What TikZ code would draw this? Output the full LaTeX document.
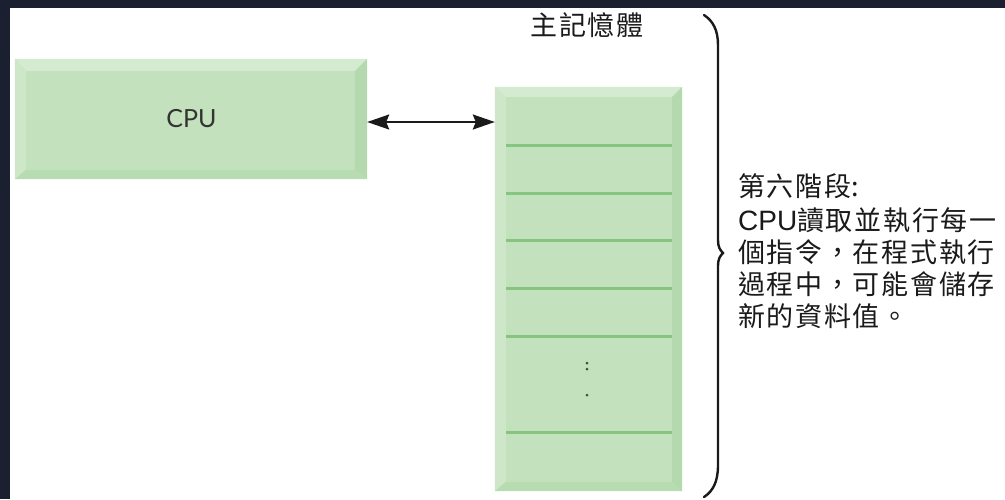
\documentclass[tikz,border=0pt]{standalone}
\usepackage{fontspec}
\usetikzlibrary{arrows.meta}
\newfontfamily\cjk{Noto Sans CJK TC}
\newfontfamily\latf{Liberation Sans}
\newfontfamily\cpuf{Lato}
\makeatletter
\count@="4E00
\loop
  \XeTeXcharclass\count@=1
  \advance\count@ 1
\ifnum\count@<"A000 \repeat
\makeatother
\XeTeXcharclass"FF0C=1
\XeTeXcharclass"3002=1
\XeTeXinterchartokenstate=1
\XeTeXinterchartoks 1 1 = {\hskip 1.7pt\relax}
\XeTeXinterchartoks 0 1 = {\hskip 2pt\relax}
\definecolor{frame}{HTML}{1B2030}
\definecolor{face}{HTML}{C3E1BD}
\definecolor{bevT}{HTML}{D5EBD1}
\definecolor{bevL}{HTML}{CDE7C8}
\definecolor{bevR}{HTML}{B5D9AE}
\definecolor{bevB}{HTML}{B8DCB1}
\definecolor{sep}{HTML}{84C67D}
\definecolor{ink}{HTML}{1A1A1A}
\newcommand\bevelbox[5]{%
 \fill[bevT] (#1.north west) -- (#1.north east) -- ([shift={(-#4,#2)}]#1.north east) -- ([shift={(#3,#2)}]#1.north west) -- cycle;
 \fill[bevL] (#1.north west) -- ([shift={(#3,#2)}]#1.north west) -- ([shift={(#3,-#5)}]#1.south west) -- (#1.south west) -- cycle;
 \fill[bevR] (#1.north east) -- (#1.south east) -- ([shift={(-#4,-#5)}]#1.south east) -- ([shift={(-#4,#2)}]#1.north east) -- cycle;
 \fill[bevB] (#1.south west) -- ([shift={(#3,-#5)}]#1.south west) -- ([shift={(-#4,-#5)}]#1.south east) -- (#1.south east) -- cycle;}
\tikzset{
 box/.style={rectangle, fill=face, draw=none, inner sep=0pt},
 sepline/.style={draw=sep, line width=3pt},
 arr/.style={{Stealth[length=22pt,width=15pt,inset=3pt]}-{Stealth[length=22pt,width=15pt,inset=3pt]}, line width=2pt, draw=ink},
 desc/.style={anchor=base west, inner sep=0pt, text=ink, font=\cjk\fontsize{27}{30}\selectfont},
 bracel/.style={draw=ink, line width=2.4pt, line cap=round}
}
\begin{document}
\begin{tikzpicture}[x=1pt,y=-1pt]
\useasboundingbox (0,0) rectangle (1005,499);
\fill[frame] (0,0) rectangle (1005,499);
\fill[white] (10,8) rectangle (1005,499);
% CPU box
\node[box, minimum width=352pt, minimum height=120pt] (cpu) at (191,119) {};
\bevelbox{cpu}{12}{11}{12}{9}
\node[inner sep=0pt, anchor=base, text=black!80, font=\cpuf\fontsize{25}{25}\selectfont] (cpulabel) at (191.5,127) {CPU};
% memory box
\node[box, minimum width=187pt, minimum height=404pt] (mem) at (588.5,289) {};
\bevelbox{mem}{10}{11}{10}{9}
\foreach \yy in {145,193,240,288,336,432} \draw[sepline] (506,\yy) -- (672,\yy);
\fill[ink!80] (587,363) circle (1.5) (587,369) circle (1.5) (587,395) circle (1.5);
% arrow
\draw[arr] ([yshift=-3pt]cpu.east) -- ([yshift=-3pt]cpu.east -| mem.west);
% title
\node[anchor=base, inner sep=0pt, text=ink, font=\cjk\fontsize{27}{27}\selectfont] (title) at (587,35) {主記憶體};
% brace
\draw[bracel] (704,15) .. controls (713,21) and (718,30) .. (718,45) -- (718,240)
  .. controls (718,247) and (720,250) .. (723,253) .. controls (720,256) and (718,259) .. (718,266)
  -- (718,465) .. controls (718,482) and (713,491) .. (704,497);
% description
\node[desc] (l1) at (738,196) {第六階段:};
\node[desc] (l2) at (738,230) {{\latf\fontsize{28}{28}\selectfont CPU}讀取並執行每一};
\node[desc] (l3) at (738,262.5) {個指令，在程式執行};
\node[desc] (l4) at (738,294.5) {過程中，可能會儲存};
\node[desc] (l5) at (738,326.5) {新的資料值。};
\end{tikzpicture}
\end{document}
